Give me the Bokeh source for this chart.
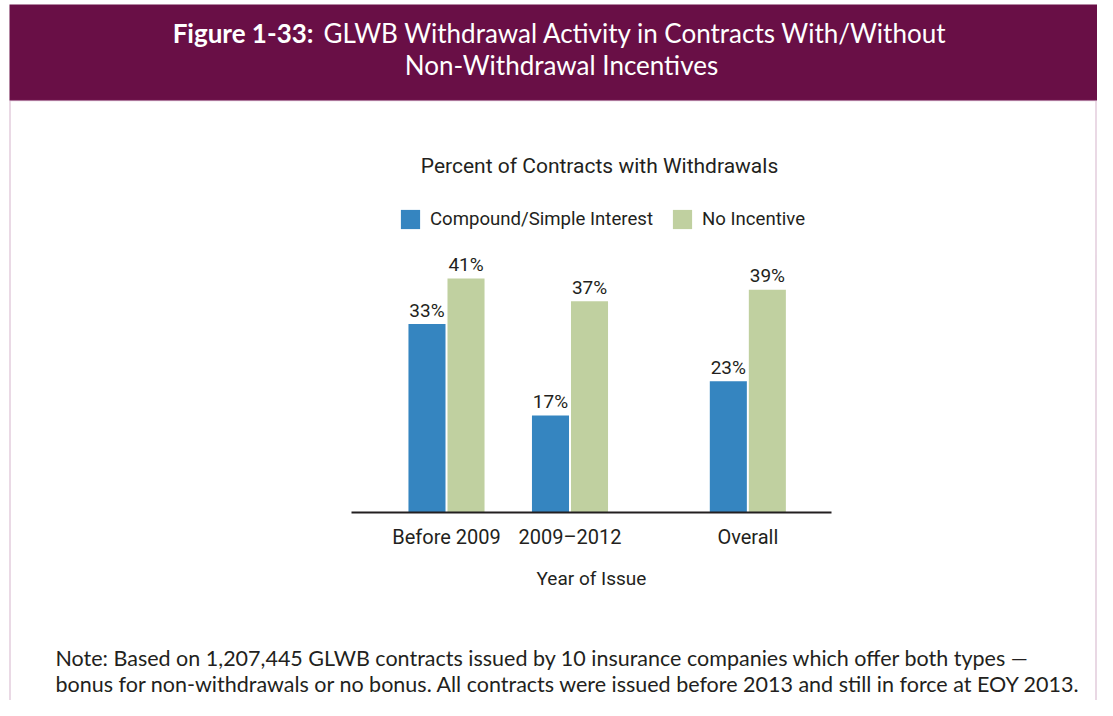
from bokeh.plotting import figure
from bokeh.models import (Range1d, FixedTicker, Label, BoxAnnotation, Legend,
                          LegendItem, ColumnDataSource)
from bokeh.core.properties import value
from bokeh.embed import file_html
from bokeh.resources import INLINE

# ---------------- data ----------------
categories = ["Before 2009", "2009–2012", "Overall"]
compound_simple = [33, 17, 23]
no_incentive = [41, 37, 39]
series_names = ["Compound/Simple Interest", "No Incentive"]

title_bold = "Figure 1-33:"
title_rest = "GLWB Withdrawal Activity in Contracts With/Without"
title_line2 = "Non-Withdrawal Incentives"
subtitle = "Percent of Contracts with Withdrawals"
x_title = "Year of Issue"
note_lines = [
    "Note: Based on 1,207,445 GLWB contracts issued by 10 insurance companies which offer both types —",
    "bonus for non-withdrawals or no bonus. All contracts were issued before 2013 and still in force at EOY 2013.",
]

# ---------------- layout / style ----------------
W, H = 1097, 700
BASE_Y = 512            # canvas y of the value axis zero line
CENTER0 = 446           # canvas x of the first group centre
group_pos = [0.0, 1.0, 2.44]
BAR_W, DODGE = 0.30, 0.158
PX_PER_UNIT = 123.5
PX_PER_PCT = 5.71
AXIS_X0, AXIS_X1 = 351, 831   # canvas extent of the axis line
BL_SHIFT = 0.36               # empirical baseline correction (fraction of font size)

MAROON = "#690f46"
BLUE = "#3585c0"
GREEN = "#c0d0a0"
TXT = "#231f20"
FONT = "Lato"
CFONT = "Roboto"


def sx(ref_x):
    return ref_x


def sy(ref_y):
    return H - ref_y


def base(ref_baseline, fs):
    return sy(ref_baseline - BL_SHIFT * fs)


def ux(px):
    return (px - CENTER0) / PX_PER_UNIT


p = figure(width=W, height=H,
           min_border_left=0, min_border_right=0,
           min_border_top=0, min_border_bottom=0,
           x_range=Range1d(ux(0), ux(W)),
           y_range=Range1d(-(H - BASE_Y) / PX_PER_PCT, BASE_Y / PX_PER_PCT),
           output_backend="svg", toolbar_location=None,
           background_fill_color="white", border_fill_color="white",
           outline_line_color=None)

src = ColumnDataSource(dict(
    cat=categories,
    xb=[g - DODGE for g in group_pos],
    xg=[g + DODGE for g in group_pos],
    comp=compound_simple,
    noinc=no_incentive,
    comp_lbl=[f"{v}%" for v in compound_simple],
    noinc_lbl=[f"{v}%" for v in no_incentive],
))

r_blue = p.vbar(x="xb", top="comp", width=BAR_W, bottom=0, source=src,
                fill_color=BLUE, line_color=None)
r_green = p.vbar(x="xg", top="noinc", width=BAR_W, bottom=0, source=src,
                 fill_color=GREEN, line_color=None)

VAL_FS = 19
for xcol, ycol, tcol in (("xb", "comp", "comp_lbl"), ("xg", "noinc", "noinc_lbl")):
    p.text(x=xcol, y=ycol, text=tcol, source=src, text_align="center",
           text_baseline="alphabetic", y_offset=-7 - BL_SHIFT * VAL_FS,
           text_font=value(CFONT), text_font_size=f"{VAL_FS}px", text_color=TXT)

# axes
p.yaxis.visible = False
p.grid.visible = False
ax = p.xaxis[0]
ax.fixed_location = 0
ax.bounds = (ux(AXIS_X0), ux(AXIS_X1))
ax.ticker = FixedTicker(ticks=group_pos)
ax.major_label_overrides = {g: c for g, c in zip(group_pos, categories)}
ax.axis_line_color = TXT
ax.axis_line_width = 2
ax.major_tick_line_color = None
ax.minor_tick_line_color = None
ax.major_tick_out = 0
ax.major_tick_in = 0
ax.major_label_standoff = 12
ax.major_label_text_font = CFONT
ax.major_label_text_font_size = "20px"
ax.major_label_text_color = TXT
ax.axis_label = x_title
ax.axis_label_text_font = CFONT
ax.axis_label_text_font_style = "normal"
ax.axis_label_text_font_size = "19px"
ax.axis_label_text_color = TXT
ax.axis_label_standoff = 15

# header band and frame border
p.add_layout(BoxAnnotation(left=sx(9), right=sx(W), top=sy(4), bottom=sy(100),
                           left_units="screen", right_units="screen",
                           top_units="screen", bottom_units="screen",
                           fill_color=MAROON, fill_alpha=1, line_color=None,
                           level="underlay"))
p.add_layout(BoxAnnotation(left=sx(9.5), right=sx(W - 1.5), top=sy(100), bottom=sy(H + 20),
                           left_units="screen", right_units="screen",
                           top_units="screen", bottom_units="screen",
                           fill_alpha=0, line_color="#a0558a", line_width=1.5,
                           level="underlay"))

HFS = 26
p.add_layout(Label(x=sx(313), y=base(42, HFS), x_units="screen", y_units="screen",
                   text=title_bold, text_align="right", text_baseline="alphabetic",
                   text_font=FONT, text_font_style="bold", text_font_size=f"{HFS}px",
                   text_color="white"))
p.add_layout(Label(x=sx(323), y=base(42, HFS), x_units="screen", y_units="screen",
                   text=title_rest, text_align="left", text_baseline="alphabetic",
                   text_font=FONT, text_font_size=f"{HFS}px", text_color="white"))
p.add_layout(Label(x=sx(561), y=base(74, HFS), x_units="screen", y_units="screen",
                   text=title_line2, text_align="center", text_baseline="alphabetic",
                   text_font=FONT, text_font_size=f"{HFS}px", text_color="white"))

SFS = 21
p.add_layout(Label(x=sx(599), y=base(173, SFS), x_units="screen", y_units="screen",
                   text=subtitle, text_align="center", text_baseline="alphabetic",
                   text_font=CFONT, text_font_size=f"{SFS}px", text_color=TXT))

NFS = 21.5
for i, line in enumerate(note_lines):
    p.add_layout(Label(x=sx(55), y=base(665 + 26 * i, NFS), x_units="screen", y_units="screen",
                       text=line, text_align="left", text_baseline="alphabetic",
                       text_font=FONT, text_font_size=f"{NFS}px", text_color=TXT))

legend = Legend(items=[LegendItem(label=series_names[0], renderers=[r_blue]),
                       LegendItem(label=series_names[1], renderers=[r_green])],
                location=(sx(398), sy(231)), orientation="horizontal",
                glyph_width=24, glyph_height=24, label_standoff=8, spacing=17,
                padding=0, margin=0, border_line_color=None,
                background_fill_alpha=0, label_text_font=CFONT,
                label_text_font_size="18.6px", label_text_color=TXT,
                label_text_baseline="middle")
p.add_layout(legend, "center")

open("out.html", "w").write(file_html(p, INLINE))
